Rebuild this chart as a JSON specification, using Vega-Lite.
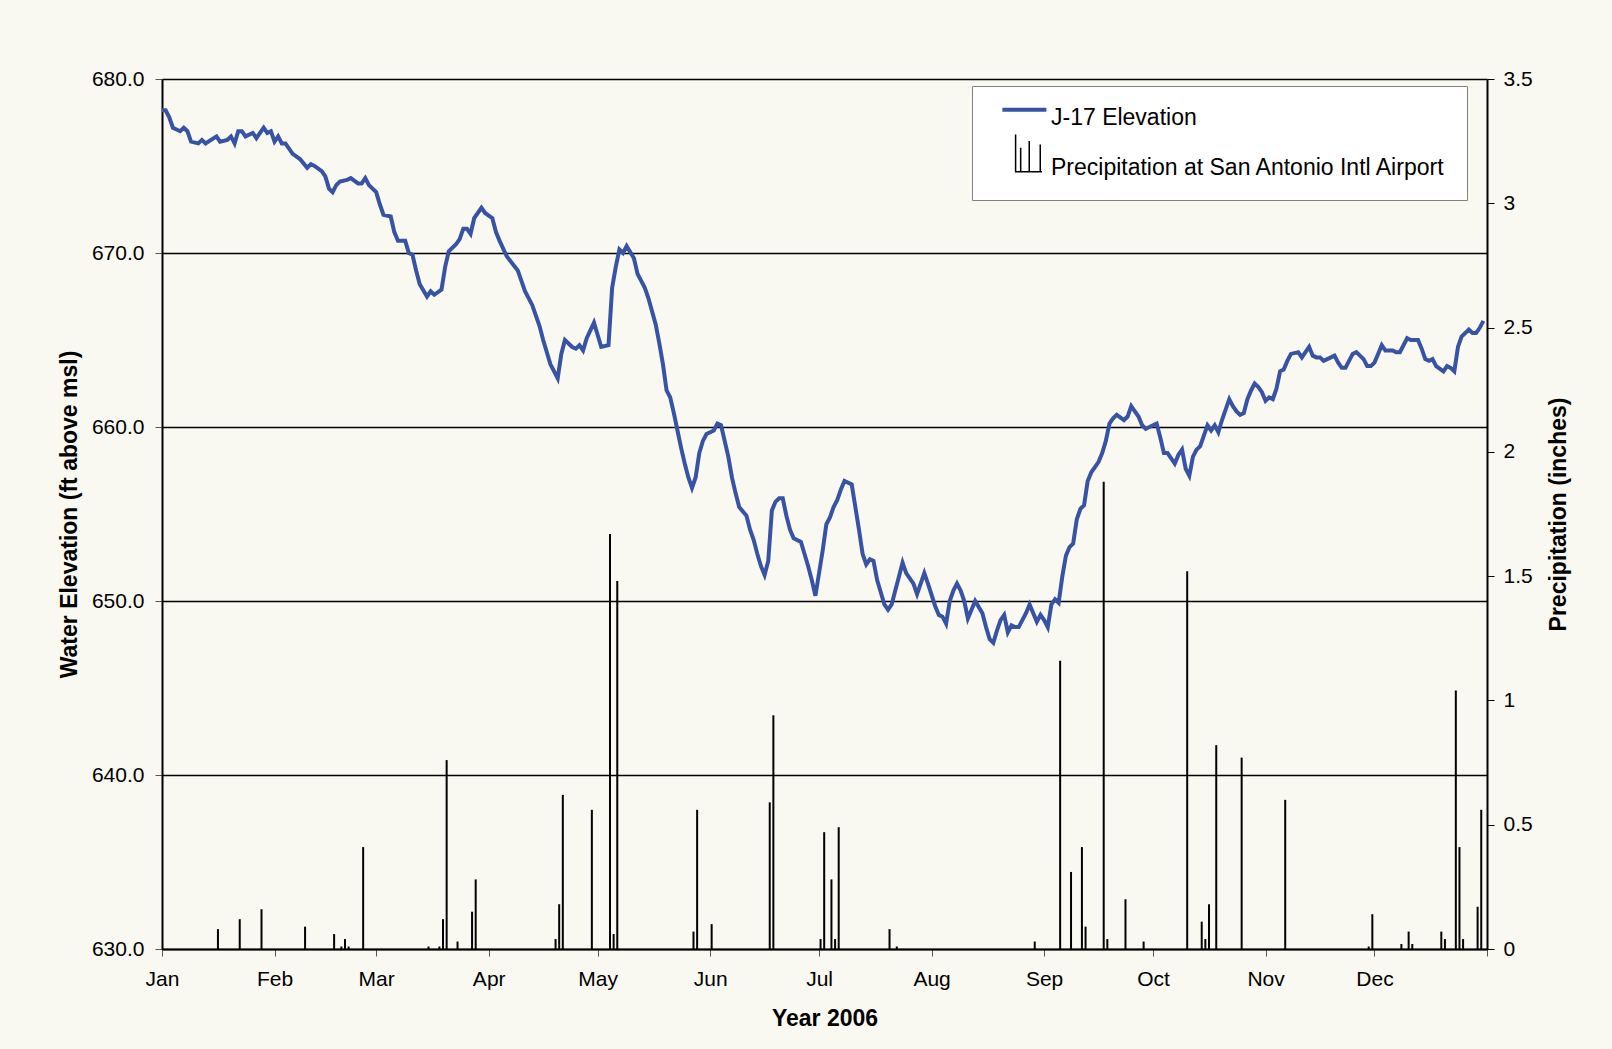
{
  "$schema": "https://vega.github.io/schema/vega-lite/v6.json",
  "width": 1325,
  "height": 870,
  "autosize": {"type": "none"},
  "padding": {"left": 162, "top": 79, "right": 125, "bottom": 100},
  "background": "#F9F9F1",
  "config": {
    "font": "Liberation Sans",
    "view": {"stroke": null},
    "axis": {"labelColor": "#000000", "titleColor": "#000000", "labelFont": "Liberation Sans", "titleFont": "Liberation Sans"}
  },
  "datasets": {
    "elev": [
      {"date": "2006-01-01", "elev": 678.2}, {"date": "2006-01-02", "elev": 678.2}, {"date": "2006-01-03", "elev": 677.8}, {"date": "2006-01-04", "elev": 677.2}, {"date": "2006-01-05", "elev": 677.1}, {"date": "2006-01-06", "elev": 677.0}, {"date": "2006-01-07", "elev": 677.2}, {"date": "2006-01-08", "elev": 677.0}, {"date": "2006-01-09", "elev": 676.4}, {"date": "2006-01-11", "elev": 676.3}, {"date": "2006-01-12", "elev": 676.5}, {"date": "2006-01-13", "elev": 676.3}, {"date": "2006-01-16", "elev": 676.7}, {"date": "2006-01-17", "elev": 676.4}, {"date": "2006-01-19", "elev": 676.5}, {"date": "2006-01-20", "elev": 676.7}, {"date": "2006-01-21", "elev": 676.3}, {"date": "2006-01-22", "elev": 677.0}, {"date": "2006-01-23", "elev": 677.0}, {"date": "2006-01-24", "elev": 676.7}, {"date": "2006-01-26", "elev": 676.9}, {"date": "2006-01-27", "elev": 676.6}, {"date": "2006-01-29", "elev": 677.2}, {"date": "2006-01-30", "elev": 676.9}, {"date": "2006-01-31", "elev": 677.0},
      {"date": "2006-02-01", "elev": 676.4}, {"date": "2006-02-02", "elev": 676.7}, {"date": "2006-02-03", "elev": 676.3}, {"date": "2006-02-04", "elev": 676.3}, {"date": "2006-02-06", "elev": 675.7}, {"date": "2006-02-08", "elev": 675.4}, {"date": "2006-02-10", "elev": 674.9}, {"date": "2006-02-11", "elev": 675.1}, {"date": "2006-02-12", "elev": 675.0}, {"date": "2006-02-14", "elev": 674.7}, {"date": "2006-02-15", "elev": 674.4}, {"date": "2006-02-16", "elev": 673.7}, {"date": "2006-02-17", "elev": 673.5}, {"date": "2006-02-18", "elev": 673.9}, {"date": "2006-02-19", "elev": 674.1}, {"date": "2006-02-21", "elev": 674.2}, {"date": "2006-02-22", "elev": 674.3}, {"date": "2006-02-24", "elev": 674.0}, {"date": "2006-02-25", "elev": 674.0}, {"date": "2006-02-26", "elev": 674.3}, {"date": "2006-02-27", "elev": 673.9},
      {"date": "2006-03-01", "elev": 673.5}, {"date": "2006-03-02", "elev": 672.8}, {"date": "2006-03-03", "elev": 672.2}, {"date": "2006-03-05", "elev": 672.1}, {"date": "2006-03-06", "elev": 671.2}, {"date": "2006-03-07", "elev": 670.7}, {"date": "2006-03-09", "elev": 670.7}, {"date": "2006-03-10", "elev": 670.0}, {"date": "2006-03-11", "elev": 669.9}, {"date": "2006-03-12", "elev": 669.0}, {"date": "2006-03-13", "elev": 668.2}, {"date": "2006-03-15", "elev": 667.5}, {"date": "2006-03-16", "elev": 667.8}, {"date": "2006-03-17", "elev": 667.6}, {"date": "2006-03-19", "elev": 667.9}, {"date": "2006-03-20", "elev": 669.2}, {"date": "2006-03-21", "elev": 670.1}, {"date": "2006-03-23", "elev": 670.5}, {"date": "2006-03-24", "elev": 670.8}, {"date": "2006-03-25", "elev": 671.4}, {"date": "2006-03-26", "elev": 671.4}, {"date": "2006-03-27", "elev": 671.1}, {"date": "2006-03-28", "elev": 672.0}, {"date": "2006-03-30", "elev": 672.6}, {"date": "2006-03-31", "elev": 672.3},
      {"date": "2006-04-02", "elev": 672.0}, {"date": "2006-04-03", "elev": 671.2}, {"date": "2006-04-04", "elev": 670.7}, {"date": "2006-04-06", "elev": 669.8}, {"date": "2006-04-09", "elev": 669.0}, {"date": "2006-04-11", "elev": 667.8}, {"date": "2006-04-13", "elev": 667.0}, {"date": "2006-04-15", "elev": 665.8}, {"date": "2006-04-16", "elev": 665.0}, {"date": "2006-04-18", "elev": 663.6}, {"date": "2006-04-20", "elev": 662.8}, {"date": "2006-04-21", "elev": 664.2}, {"date": "2006-04-22", "elev": 665.0}, {"date": "2006-04-24", "elev": 664.6}, {"date": "2006-04-25", "elev": 664.5}, {"date": "2006-04-26", "elev": 664.7}, {"date": "2006-04-27", "elev": 664.4}, {"date": "2006-04-28", "elev": 665.1}, {"date": "2006-04-30", "elev": 666.0},
      {"date": "2006-05-02", "elev": 664.6}, {"date": "2006-05-04", "elev": 664.7}, {"date": "2006-05-05", "elev": 668.0}, {"date": "2006-05-06", "elev": 669.2}, {"date": "2006-05-07", "elev": 670.2}, {"date": "2006-05-08", "elev": 670.0}, {"date": "2006-05-09", "elev": 670.4}, {"date": "2006-05-11", "elev": 669.7}, {"date": "2006-05-12", "elev": 668.8}, {"date": "2006-05-14", "elev": 668.0}, {"date": "2006-05-15", "elev": 667.4}, {"date": "2006-05-17", "elev": 665.9}, {"date": "2006-05-18", "elev": 664.8}, {"date": "2006-05-19", "elev": 663.6}, {"date": "2006-05-20", "elev": 662.1}, {"date": "2006-05-21", "elev": 661.7}, {"date": "2006-05-22", "elev": 660.8}, {"date": "2006-05-23", "elev": 659.8}, {"date": "2006-05-24", "elev": 658.8}, {"date": "2006-05-25", "elev": 657.9}, {"date": "2006-05-26", "elev": 657.1}, {"date": "2006-05-27", "elev": 656.5}, {"date": "2006-05-28", "elev": 657.1}, {"date": "2006-05-29", "elev": 658.5}, {"date": "2006-05-30", "elev": 659.2}, {"date": "2006-05-31", "elev": 659.6},
      {"date": "2006-06-02", "elev": 659.8}, {"date": "2006-06-03", "elev": 660.2}, {"date": "2006-06-04", "elev": 660.1}, {"date": "2006-06-05", "elev": 659.2}, {"date": "2006-06-06", "elev": 658.3}, {"date": "2006-06-07", "elev": 657.1}, {"date": "2006-06-08", "elev": 656.2}, {"date": "2006-06-09", "elev": 655.4}, {"date": "2006-06-11", "elev": 654.9}, {"date": "2006-06-12", "elev": 654.1}, {"date": "2006-06-13", "elev": 653.5}, {"date": "2006-06-14", "elev": 652.7}, {"date": "2006-06-15", "elev": 652.0}, {"date": "2006-06-16", "elev": 651.5}, {"date": "2006-06-17", "elev": 652.3}, {"date": "2006-06-18", "elev": 655.2}, {"date": "2006-06-19", "elev": 655.7}, {"date": "2006-06-20", "elev": 655.9}, {"date": "2006-06-21", "elev": 655.9}, {"date": "2006-06-22", "elev": 654.9}, {"date": "2006-06-23", "elev": 654.1}, {"date": "2006-06-24", "elev": 653.6}, {"date": "2006-06-26", "elev": 653.4}, {"date": "2006-06-27", "elev": 652.7}, {"date": "2006-06-28", "elev": 652.0}, {"date": "2006-06-29", "elev": 651.2}, {"date": "2006-06-30", "elev": 650.3},
      {"date": "2006-07-02", "elev": 652.9}, {"date": "2006-07-03", "elev": 654.4}, {"date": "2006-07-04", "elev": 654.8}, {"date": "2006-07-05", "elev": 655.4}, {"date": "2006-07-06", "elev": 655.8}, {"date": "2006-07-07", "elev": 656.4}, {"date": "2006-07-08", "elev": 656.9}, {"date": "2006-07-10", "elev": 656.7}, {"date": "2006-07-11", "elev": 655.4}, {"date": "2006-07-12", "elev": 654.1}, {"date": "2006-07-13", "elev": 652.7}, {"date": "2006-07-14", "elev": 652.1}, {"date": "2006-07-15", "elev": 652.4}, {"date": "2006-07-16", "elev": 652.3}, {"date": "2006-07-17", "elev": 651.2}, {"date": "2006-07-19", "elev": 649.8}, {"date": "2006-07-20", "elev": 649.5}, {"date": "2006-07-21", "elev": 649.8}, {"date": "2006-07-22", "elev": 650.6}, {"date": "2006-07-23", "elev": 651.4}, {"date": "2006-07-24", "elev": 652.2}, {"date": "2006-07-25", "elev": 651.6}, {"date": "2006-07-26", "elev": 651.3}, {"date": "2006-07-27", "elev": 651.0}, {"date": "2006-07-28", "elev": 650.4}, {"date": "2006-07-29", "elev": 651.0}, {"date": "2006-07-30", "elev": 651.6}, {"date": "2006-07-31", "elev": 651.0},
      {"date": "2006-08-02", "elev": 649.7}, {"date": "2006-08-03", "elev": 649.2}, {"date": "2006-08-04", "elev": 649.1}, {"date": "2006-08-05", "elev": 648.7}, {"date": "2006-08-06", "elev": 650.0}, {"date": "2006-08-07", "elev": 650.6}, {"date": "2006-08-08", "elev": 651.0}, {"date": "2006-08-09", "elev": 650.6}, {"date": "2006-08-10", "elev": 650.0}, {"date": "2006-08-11", "elev": 649.0}, {"date": "2006-08-12", "elev": 649.5}, {"date": "2006-08-13", "elev": 650.0}, {"date": "2006-08-15", "elev": 649.3}, {"date": "2006-08-16", "elev": 648.5}, {"date": "2006-08-17", "elev": 647.8}, {"date": "2006-08-18", "elev": 647.6}, {"date": "2006-08-19", "elev": 648.3}, {"date": "2006-08-20", "elev": 648.9}, {"date": "2006-08-21", "elev": 649.2}, {"date": "2006-08-22", "elev": 648.2}, {"date": "2006-08-23", "elev": 648.6}, {"date": "2006-08-24", "elev": 648.5}, {"date": "2006-08-25", "elev": 648.5}, {"date": "2006-08-26", "elev": 648.9}, {"date": "2006-08-27", "elev": 649.3}, {"date": "2006-08-28", "elev": 649.8}, {"date": "2006-08-29", "elev": 649.3}, {"date": "2006-08-30", "elev": 648.8}, {"date": "2006-08-31", "elev": 649.2},
      {"date": "2006-09-01", "elev": 648.9}, {"date": "2006-09-02", "elev": 648.5}, {"date": "2006-09-03", "elev": 649.8}, {"date": "2006-09-04", "elev": 650.1}, {"date": "2006-09-05", "elev": 649.9}, {"date": "2006-09-06", "elev": 651.4}, {"date": "2006-09-07", "elev": 652.6}, {"date": "2006-09-08", "elev": 653.1}, {"date": "2006-09-09", "elev": 653.3}, {"date": "2006-09-10", "elev": 654.7}, {"date": "2006-09-11", "elev": 655.3}, {"date": "2006-09-12", "elev": 655.5}, {"date": "2006-09-13", "elev": 656.9}, {"date": "2006-09-14", "elev": 657.4}, {"date": "2006-09-15", "elev": 657.7}, {"date": "2006-09-16", "elev": 658.0}, {"date": "2006-09-17", "elev": 658.5}, {"date": "2006-09-18", "elev": 659.2}, {"date": "2006-09-19", "elev": 660.2}, {"date": "2006-09-20", "elev": 660.5}, {"date": "2006-09-21", "elev": 660.7}, {"date": "2006-09-23", "elev": 660.4}, {"date": "2006-09-24", "elev": 660.6}, {"date": "2006-09-25", "elev": 661.2}, {"date": "2006-09-26", "elev": 660.9}, {"date": "2006-09-27", "elev": 660.6}, {"date": "2006-09-28", "elev": 660.1}, {"date": "2006-09-29", "elev": 659.9}, {"date": "2006-09-30", "elev": 660.0},
      {"date": "2006-10-02", "elev": 660.2}, {"date": "2006-10-03", "elev": 659.4}, {"date": "2006-10-04", "elev": 658.5}, {"date": "2006-10-05", "elev": 658.5}, {"date": "2006-10-06", "elev": 658.2}, {"date": "2006-10-07", "elev": 657.9}, {"date": "2006-10-08", "elev": 658.4}, {"date": "2006-10-09", "elev": 658.7}, {"date": "2006-10-10", "elev": 657.6}, {"date": "2006-10-11", "elev": 657.2}, {"date": "2006-10-12", "elev": 658.3}, {"date": "2006-10-13", "elev": 658.7}, {"date": "2006-10-14", "elev": 658.9}, {"date": "2006-10-15", "elev": 659.5}, {"date": "2006-10-16", "elev": 660.1}, {"date": "2006-10-17", "elev": 659.8}, {"date": "2006-10-18", "elev": 660.1}, {"date": "2006-10-19", "elev": 659.7}, {"date": "2006-10-20", "elev": 660.4}, {"date": "2006-10-21", "elev": 661.0}, {"date": "2006-10-22", "elev": 661.6}, {"date": "2006-10-23", "elev": 661.2}, {"date": "2006-10-24", "elev": 660.9}, {"date": "2006-10-25", "elev": 660.7}, {"date": "2006-10-26", "elev": 660.8}, {"date": "2006-10-27", "elev": 661.6}, {"date": "2006-10-28", "elev": 662.1}, {"date": "2006-10-29", "elev": 662.5}, {"date": "2006-10-30", "elev": 662.3}, {"date": "2006-10-31", "elev": 662.0},
      {"date": "2006-11-01", "elev": 661.5}, {"date": "2006-11-02", "elev": 661.7}, {"date": "2006-11-03", "elev": 661.6}, {"date": "2006-11-04", "elev": 662.2}, {"date": "2006-11-05", "elev": 663.2}, {"date": "2006-11-06", "elev": 663.3}, {"date": "2006-11-07", "elev": 663.8}, {"date": "2006-11-08", "elev": 664.2}, {"date": "2006-11-10", "elev": 664.3}, {"date": "2006-11-11", "elev": 664.0}, {"date": "2006-11-12", "elev": 664.3}, {"date": "2006-11-13", "elev": 664.6}, {"date": "2006-11-14", "elev": 664.1}, {"date": "2006-11-15", "elev": 664.0}, {"date": "2006-11-16", "elev": 664.0}, {"date": "2006-11-17", "elev": 663.8}, {"date": "2006-11-19", "elev": 664.0}, {"date": "2006-11-20", "elev": 664.1}, {"date": "2006-11-21", "elev": 663.7}, {"date": "2006-11-22", "elev": 663.4}, {"date": "2006-11-23", "elev": 663.4}, {"date": "2006-11-24", "elev": 663.8}, {"date": "2006-11-25", "elev": 664.2}, {"date": "2006-11-26", "elev": 664.3}, {"date": "2006-11-28", "elev": 663.9}, {"date": "2006-11-29", "elev": 663.5}, {"date": "2006-11-30", "elev": 663.5},
      {"date": "2006-12-01", "elev": 663.7}, {"date": "2006-12-02", "elev": 664.2}, {"date": "2006-12-03", "elev": 664.7}, {"date": "2006-12-04", "elev": 664.4}, {"date": "2006-12-06", "elev": 664.4}, {"date": "2006-12-07", "elev": 664.3}, {"date": "2006-12-08", "elev": 664.3}, {"date": "2006-12-09", "elev": 664.7}, {"date": "2006-12-10", "elev": 665.1}, {"date": "2006-12-11", "elev": 665.0}, {"date": "2006-12-13", "elev": 665.0}, {"date": "2006-12-14", "elev": 664.5}, {"date": "2006-12-15", "elev": 663.9}, {"date": "2006-12-16", "elev": 663.8}, {"date": "2006-12-17", "elev": 663.9}, {"date": "2006-12-18", "elev": 663.5}, {"date": "2006-12-20", "elev": 663.2}, {"date": "2006-12-21", "elev": 663.5}, {"date": "2006-12-22", "elev": 663.4}, {"date": "2006-12-23", "elev": 663.2}, {"date": "2006-12-24", "elev": 664.6}, {"date": "2006-12-25", "elev": 665.2}, {"date": "2006-12-27", "elev": 665.6}, {"date": "2006-12-28", "elev": 665.4}, {"date": "2006-12-29", "elev": 665.4}, {"date": "2006-12-30", "elev": 665.7}, {"date": "2006-12-31", "elev": 666.1}
    ],
    "precip": [
      {"date": "2006-01-16", "precip": 0.08}, {"date": "2006-01-22", "precip": 0.12}, {"date": "2006-01-28", "precip": 0.16}, {"date": "2006-02-09", "precip": 0.09}, {"date": "2006-02-17", "precip": 0.06}, {"date": "2006-02-19", "precip": 0.01}, {"date": "2006-02-20", "precip": 0.04}, {"date": "2006-02-21", "precip": 0.01}, {"date": "2006-02-25", "precip": 0.41},
      {"date": "2006-03-15", "precip": 0.01}, {"date": "2006-03-18", "precip": 0.01}, {"date": "2006-03-19", "precip": 0.12}, {"date": "2006-03-20", "precip": 0.76}, {"date": "2006-03-23", "precip": 0.03}, {"date": "2006-03-27", "precip": 0.15}, {"date": "2006-03-28", "precip": 0.28},
      {"date": "2006-04-19", "precip": 0.04}, {"date": "2006-04-20", "precip": 0.18}, {"date": "2006-04-21", "precip": 0.62}, {"date": "2006-04-29", "precip": 0.56},
      {"date": "2006-05-04", "precip": 1.67}, {"date": "2006-05-05", "precip": 0.06}, {"date": "2006-05-06", "precip": 1.48}, {"date": "2006-05-27", "precip": 0.07}, {"date": "2006-05-28", "precip": 0.56},
      {"date": "2006-06-01", "precip": 0.10}, {"date": "2006-06-17", "precip": 0.59}, {"date": "2006-06-18", "precip": 0.94},
      {"date": "2006-07-01", "precip": 0.04}, {"date": "2006-07-02", "precip": 0.47}, {"date": "2006-07-04", "precip": 0.28}, {"date": "2006-07-05", "precip": 0.04}, {"date": "2006-07-06", "precip": 0.49}, {"date": "2006-07-20", "precip": 0.08}, {"date": "2006-07-22", "precip": 0.01},
      {"date": "2006-08-29", "precip": 0.03},
      {"date": "2006-09-05", "precip": 1.16}, {"date": "2006-09-08", "precip": 0.31}, {"date": "2006-09-11", "precip": 0.41}, {"date": "2006-09-12", "precip": 0.09}, {"date": "2006-09-17", "precip": 1.88}, {"date": "2006-09-18", "precip": 0.04}, {"date": "2006-09-23", "precip": 0.20}, {"date": "2006-09-28", "precip": 0.03},
      {"date": "2006-10-10", "precip": 1.52}, {"date": "2006-10-14", "precip": 0.11}, {"date": "2006-10-15", "precip": 0.04}, {"date": "2006-10-16", "precip": 0.18}, {"date": "2006-10-18", "precip": 0.82}, {"date": "2006-10-25", "precip": 0.77},
      {"date": "2006-11-06", "precip": 0.60}, {"date": "2006-11-29", "precip": 0.01}, {"date": "2006-11-30", "precip": 0.14},
      {"date": "2006-12-08", "precip": 0.02}, {"date": "2006-12-10", "precip": 0.07}, {"date": "2006-12-11", "precip": 0.02}, {"date": "2006-12-19", "precip": 0.07}, {"date": "2006-12-20", "precip": 0.04}, {"date": "2006-12-23", "precip": 1.04}, {"date": "2006-12-24", "precip": 0.41}, {"date": "2006-12-25", "precip": 0.04}, {"date": "2006-12-29", "precip": 0.17}, {"date": "2006-12-30", "precip": 0.56}
    ]
  },
  "layer": [
    {
      "data": {"name": "precip"},
      "mark": {"type": "rule", "strokeWidth": 2, "xOffset": 1.5},
      "encoding": {
        "x": {"field": "date", "type": "temporal"},
        "y": {
          "field": "precip", "type": "quantitative",
          "scale": {"domain": [0, 3.5], "nice": false, "zero": true},
          "axis": {
            "orient": "right",
            "values": [0, 0.5, 1, 1.5, 2, 2.5, 3, 3.5],
            "format": "~g",
            "grid": false,
            "title": "Precipitation (inches)",
            "titleFontSize": 23, "titleFontWeight": "bold",
            "titleAngle": -90, "titleX": 71, "titleY": 435, "titleBaseline": "middle", "titleAlign": "center",
            "labelFontSize": 21, "labelPadding": 9,
            "tickSize": 7, "tickColor": "#000000", "tickWidth": 1,
            "domainColor": "#000000", "domainWidth": 2
          }
        },
        "y2": {"datum": 0},
        "color": {"datum": "Precipitation at San Antonio Intl Airport"}
      }
    },
    {
      "data": {"name": "elev"},
      "mark": {"type": "line", "strokeWidth": 4},
      "encoding": {
        "x": {
          "field": "date", "type": "temporal",
          "scale": {"type": "utc", "domain": [1136073600000, 1167609600000]},
          "axis": {
            "values": [1136073600000, 1138752000000, 1141171200000, 1143849600000, 1146441600000, 1149120000000, 1151712000000, 1154390400000, 1157068800000, 1159660800000, 1162339200000, 1164931200000, 1167609600000],
            "labelExpr": "utcyear(datum.value) > 2006 ? '' : utcFormat(datum.value, '%b')",
            "labelFlush": false, "labelOverlap": false,
            "labelFontSize": 21, "labelPadding": 12,
            "tickSize": 7, "tickColor": "#555555",
            "domainColor": "#000000", "domainWidth": 2,
            "grid": false,
            "title": "Year 2006",
            "titleFontSize": 23, "titleFontWeight": "bold",
            "titleX": 662.5, "titleY": 69, "titleBaseline": "middle", "titleAlign": "center"
          }
        },
        "y": {
          "field": "elev", "type": "quantitative",
          "scale": {"domain": [630, 680], "nice": false, "zero": false},
          "axis": {
            "orient": "left",
            "values": [630, 640, 650, 660, 670, 680],
            "format": ".1f",
            "grid": true, "gridColor": "#000000", "gridWidth": 1.5,
            "title": "Water Elevation (ft above msl)",
            "titleFontSize": 23, "titleFontWeight": "bold",
            "titleAngle": -90, "titleX": -93, "titleY": 435, "titleBaseline": "middle", "titleAlign": "center",
            "labelFontSize": 21, "labelPadding": 11,
            "tickSize": 7, "tickColor": "#555555",
            "domainColor": "#000000", "domainWidth": 2
          }
        },
        "color": {
          "datum": "J-17 Elevation",
          "scale": {
            "domain": ["J-17 Elevation", "Precipitation at San Antonio Intl Airport"],
            "range": ["#3853A4", "#000000"]
          },
          "legend": {
            "title": null,
            "orient": "none", "legendX": 810, "legendY": 7,
            "fillColor": "#FFFFFF", "strokeColor": "#808080",
            "padding": 20,
            "labelFont": "Liberation Sans", "labelFontSize": 23, "labelColor": "#000000", "labelLimit": 1000,
            "symbolSize": 1936, "labelOffset": 36, "rowPadding": 1,
            "symbolStrokeWidth": 4,
            "encode": {
              "symbols": {
                "update": {
                  "shape": {"signal": "datum.value == 'J-17 Elevation' ? 'M-0.05,-0.35H1.95' : 'M0.55,-1.5V0.19H1.75M0.78,0.19V-0.9M1.17,0.19V-1.2M1.67,0.19V-1.05'"},
                  "strokeWidth": {"signal": "datum.value == 'J-17 Elevation' ? 4 : 1.5"},
                  "fill": {"value": "transparent"}
                }
              }
            }
          }
        }
      }
    }
  ],
  "resolve": {"scale": {"y": "independent"}, "axis": {"y": "independent"}}
}
